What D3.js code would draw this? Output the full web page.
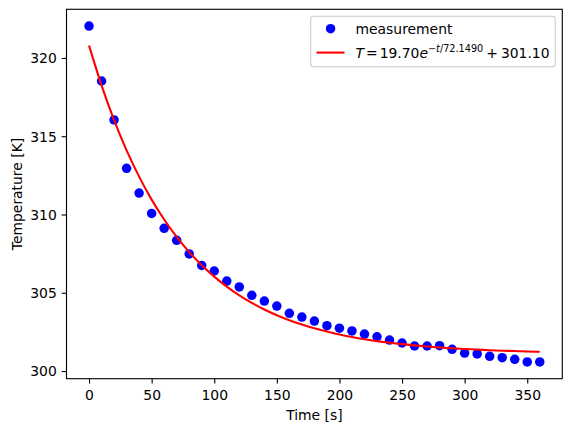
<!DOCTYPE html>
<html><head><meta charset="utf-8">
<script src="https://cdn.jsdelivr.net/npm/d3@7"></script>
<style>body{margin:0;background:#fff}svg{display:block}text{font-family:"DejaVu Sans",sans-serif}</style>
</head><body>
<svg id="c" width="571" height="432"></svg>
<script>
const times = [0,10,20,30,40,50,60,70,80,90,100,110,120,130,140,150,160,170,180,190,200,210,220,230,240,250,260,270,280,290,300,310,320,330,340,350,360];
const measured = [322.04,318.53,316.04,312.95,311.37,310.07,309.12,308.35,307.48,306.75,306.39,305.75,305.37,304.84,304.47,304.15,303.69,303.45,303.19,302.9,302.74,302.56,302.36,302.19,301.98,301.79,301.6,301.6,301.62,301.39,301.15,301.09,300.94,300.85,300.75,300.58,300.58];
const fitted = [320.80,318.25,316.03,314.10,312.42,310.95,309.68,308.57,307.60,306.76,306.03,305.39,304.83,304.35,303.93,303.56,303.24,302.97,302.73,302.52,302.33,302.17,302.03,301.91,301.81,301.72,301.64,301.57,301.51,301.45,301.41,301.37,301.33,301.30,301.28,301.25,301.23];
const xTicks = [0,50,100,150,200,250,300,350];
const yTicks = [300,305,310,315,320];

const svg = d3.select("#c");
const L=66.5, R=562.3, T=9.3, B=378.7;
const x = d3.scaleLinear().domain([-18,378]).range([L,R]);
const y = d3.scaleLinear().domain([299.51,323.11]).range([B,T]);
const fs = 13.9;
const mr = 4.75;

// points
svg.append("g").selectAll("circle").data(times).join("circle")
  .attr("cx",(d)=>x(d)).attr("cy",(d,i)=>y(measured[i])).attr("r",mr).attr("fill","#0000ff");
// fit line
const line = d3.line().x(d=>x(d[0])).y(d=>y(d[1])).curve(d3.curveMonotoneX);
svg.append("path").datum(times.map((t,i)=>[t,fitted[i]])).attr("d",line)
  .attr("fill","none").attr("stroke","#ff0000").attr("stroke-width",2.08);

// axes
const xa = svg.append("g").attr("transform",`translate(0,${B})`)
  .call(d3.axisBottom(x).tickValues(xTicks).tickSize(4.86).tickPadding(4.86).tickFormat(d3.format("d")));
const ya = svg.append("g").attr("transform",`translate(${L},0)`)
  .call(d3.axisLeft(y).tickValues(yTicks).tickSize(4.86).tickPadding(4.86).tickFormat(d3.format("d")));
[xa,ya].forEach(a=>{a.select(".domain").remove();a.selectAll("line").attr("stroke","#000").attr("stroke-width",1.11);
  a.selectAll("text").attr("font-family","DejaVu Sans").attr("font-size",fs).attr("fill","#000");});
xa.selectAll("text").attr("dy",null).attr("y",21.3);
ya.selectAll("text").attr("dy","0.35em");
// frame
svg.append("rect").attr("x",L).attr("y",T).attr("width",R-L).attr("height",B-T)
  .attr("fill","none").attr("stroke","#000").attr("stroke-width",1.11);

// labels
svg.append("text").attr("x",(L+R)/2).attr("y",420).attr("text-anchor","middle").attr("font-size",fs).text("Time [s]");
svg.append("text").attr("transform",`translate(22,${(T+B)/2}) rotate(-90)`).attr("text-anchor","middle").attr("font-size",fs).text("Temperature [K]");

// legend
const lg = svg.append("g");
lg.append("rect").attr("x",310.7).attr("y",16.2).attr("width",244.5).attr("height",50.5).attr("rx",2.8)
  .attr("fill","#fff").attr("fill-opacity",0.8).attr("stroke","#cccccc").attr("stroke-width",1.11);
lg.append("circle").attr("cx",330.6).attr("cy",28.7).attr("r",mr).attr("fill","#0000ff");
lg.append("text").attr("x",355.5).attr("y",33.5).attr("font-size",fs).text("measurement");
lg.append("line").attr("x1",316.5).attr("x2",344.5).attr("y1",52.6).attr("y2",52.6).attr("stroke","#ff0000").attr("stroke-width",2.08);
const ft = lg.append("text").attr("x",355.5).attr("y",57.8).attr("font-size",fs);
ft.append("tspan").attr("font-style","italic").text("T");
ft.append("tspan").attr("dx",2).text("=");
ft.append("tspan").attr("dx",2).text("19.70");
ft.append("tspan").attr("font-style","italic").text("e");
ft.append("tspan").attr("dy",-6.3).attr("font-size",9.7).text("−");
ft.append("tspan").attr("font-size",9.7).attr("font-style","italic").text("t");
ft.append("tspan").attr("font-size",9.7).text("/72.1490");
ft.append("tspan").attr("dy",6.3).attr("dx",3).text("+");
ft.append("tspan").attr("dx",3).text("301.10");
</script>
</body></html>
